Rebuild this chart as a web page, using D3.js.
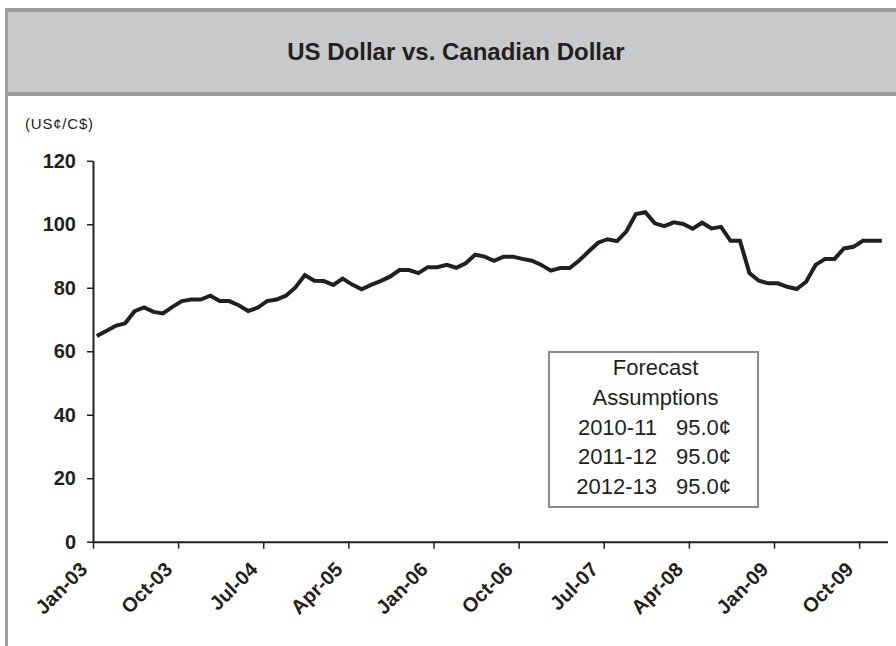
<!DOCTYPE html>
<html>
<head>
<meta charset="utf-8">
<script src="https://cdn.jsdelivr.net/npm/d3@7"></script>
<style>
  html, body { margin: 0; padding: 0; background: #fff; }
  svg { display: block; font-family: "Liberation Sans", Arial, sans-serif; }
</style>
</head>
<body>
<svg id="chart" width="896" height="646"></svg>
<script>
// ---- data ----
const title = "US Dollar vs. Canadian Dollar";
const unitLabel = "(US¢/C$)";
const startMonth = "2003-01";
// monthly US cents per C$, Jan-03 .. Dec-09
const values = [
  64.8, 66.4, 68.0, 68.8, 72.6, 73.8, 72.4, 71.9, 74.0, 75.8, 76.3, 76.3,
  77.5, 75.8, 75.8, 74.5, 72.7, 73.7, 75.8, 76.3, 77.5, 80.1, 84.0, 82.2,
  82.1, 80.9, 82.9, 81.0, 79.5, 80.9, 82.1, 83.5, 85.6, 85.6, 84.6, 86.5,
  86.5, 87.2, 86.3, 87.7, 90.4, 89.8, 88.5, 89.8, 89.8, 89.1, 88.5, 87.2,
  85.4, 86.2, 86.2, 88.6, 91.4, 94.2, 95.3, 94.7, 97.8, 103.2, 103.8, 100.3,
  99.4, 100.6, 100.1, 98.6, 100.5, 98.7, 99.2, 94.8, 94.8, 84.6, 82.2, 81.4,
  81.4, 80.3, 79.6, 81.9, 87.2, 89.1, 89.1, 92.4, 92.9, 94.8, 94.8, 94.8
];
const xTickMonths = [0, 9, 18, 27, 36, 45, 54, 63, 72, 81];
const xTickLabels = ["Jan-03", "Oct-03", "Jul-04", "Apr-05", "Jan-06", "Oct-06", "Jul-07", "Apr-08", "Jan-09", "Oct-09"];
const yTicks = [0, 20, 40, 60, 80, 100, 120];
const boxLines = ["Forecast", "Assumptions"];
const forecastYears = ["2010-11", "2011-12", "2012-13"];
const forecastValues = ["95.0¢", "95.0¢", "95.0¢"];

// ---- layout ----
const svg = d3.select("#chart");
const W = 896, H = 646;
const ink = "#231f20";
const frameGrey = "#9b9c9e";
const bandGrey = "#c8c9cb";

// frame and title band
svg.append("rect").attr("x", 8).attr("y", 12).attr("width", W - 8).attr("height", 80).attr("fill", bandGrey);
svg.append("rect").attr("x", 5).attr("y", 8).attr("width", W - 5).attr("height", 4).attr("fill", frameGrey);
svg.append("rect").attr("x", 8).attr("y", 92).attr("width", W - 8).attr("height", 4).attr("fill", frameGrey);
svg.append("rect").attr("x", 5).attr("y", 8).attr("width", 3).attr("height", H - 8).attr("fill", frameGrey);

svg.append("text")
  .attr("x", 456).attr("y", 60)
  .attr("text-anchor", "middle")
  .attr("font-size", 24).attr("font-weight", "bold").attr("fill", ink)
  .text(title);

svg.append("text")
  .attr("x", 25).attr("y", 129)
  .attr("font-size", 15).attr("letter-spacing", 0.8).attr("fill", ink)
  .text(unitLabel);

// scales
const x = d3.scaleLinear().domain([0, 84]).range([93, 887.5]);
const y = d3.scaleLinear().domain([0, 120]).range([541.7, 160.8]);
const pointOffset = 0.4;

// y axis
const yAxis = svg.append("g")
  .attr("transform", `translate(${x(0)},0)`)
  .call(d3.axisLeft(y).tickValues(yTicks).tickSize(6).tickSizeOuter(0).tickPadding(11));
yAxis.select(".domain").attr("stroke", ink).attr("stroke-width", 2);
yAxis.selectAll(".tick line").attr("stroke", ink).attr("stroke-width", 1.5);
yAxis.selectAll(".tick text")
  .attr("font-family", "Liberation Sans, Arial, sans-serif")
  .attr("font-size", 20).attr("font-weight", "bold").attr("fill", ink);

// x axis
const xAxis = svg.append("g")
  .attr("transform", `translate(0,${y(0)})`)
  .call(d3.axisBottom(x).tickValues(xTickMonths)
    .tickFormat((d, i) => xTickLabels[i]).tickSize(7).tickSizeOuter(0));
xAxis.select(".domain").attr("stroke", ink).attr("stroke-width", 2);
xAxis.selectAll(".tick line").attr("stroke", ink).attr("stroke-width", 1.5);
xAxis.selectAll(".tick text")
  .attr("font-family", "Liberation Sans, Arial, sans-serif")
  .attr("font-size", 20).attr("font-weight", "bold").attr("fill", ink)
  .attr("x", 0).attr("y", 0).attr("dy", 0)
  .attr("text-anchor", "end")
  .attr("transform", "translate(-5,29) rotate(-45)");

// line
const line = d3.line()
  .x((d, i) => x(i + pointOffset))
  .y(d => y(d))
  .curve(d3.curveLinear);
svg.append("path")
  .datum(values)
  .attr("fill", "none")
  .attr("stroke", ink)
  .attr("stroke-width", 4)
  .attr("stroke-linejoin", "miter")
  .attr("d", line);

// forecast box
const box = svg.append("g");
box.append("rect")
  .attr("x", 549).attr("y", 352).attr("width", 209).attr("height", 155)
  .attr("fill", "#fff").attr("stroke", "#8a8b8d").attr("stroke-width", 2);
const cx = 655.5;
const rowY = [375, 404.8, 434.6, 464.4, 494.2];
boxLines.forEach((t, i) => {
  box.append("text").attr("x", cx).attr("y", rowY[i])
    .attr("text-anchor", "middle").attr("font-size", 22).attr("fill", ink).text(t);
});
forecastYears.forEach((t, i) => {
  box.append("text").attr("x", 657).attr("y", rowY[i + 2])
    .attr("text-anchor", "end").attr("font-size", 22).attr("fill", ink).text(t);
  box.append("text").attr("x", 676).attr("y", rowY[i + 2])
    .attr("text-anchor", "start").attr("font-size", 22).attr("fill", ink).text(forecastValues[i]);
});
</script>
</body>
</html>
